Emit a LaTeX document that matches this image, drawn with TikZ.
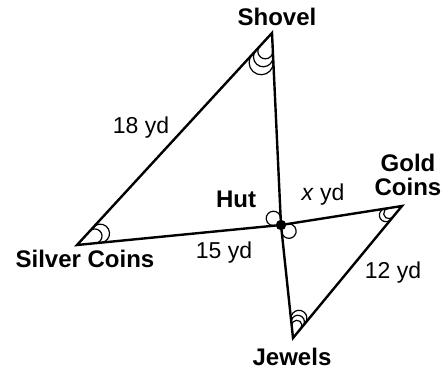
\documentclass[tikz,border=0pt]{standalone}
\usepackage{fontspec}
\setmainfont{Liberation Sans}
% angle mark: arc of the circle inscribed in the angle at #1 (sides towards #2 and #3,
% counter-clockwise from #2 to #3), centre at distance #4 along the bisector
\newcommand\tanarc[4]{%
  \pgfmathanglebetweenpoints{\pgfpointanchor{#1}{center}}{\pgfpointanchor{#2}{center}}%
  \let\tkA\pgfmathresult
  \pgfmathanglebetweenpoints{\pgfpointanchor{#1}{center}}{\pgfpointanchor{#3}{center}}%
  \let\tkB\pgfmathresult
  \pgfmathsetmacro\tkB{\tkB < \tkA ? \tkB + 360 : \tkB}%
  \pgfmathsetmacro\tkH{(\tkB-\tkA)/2}%
  \pgfmathsetmacro\tkM{\tkA+\tkH}%
  \pgfmathsetmacro\tkR{#4*sin(\tkH)}%
  \pgfmathsetmacro\tkS{\tkA-90}%
  \pgfmathsetmacro\tkE{\tkB+90}%
  \begin{pgfscope}
  \pgfsetlinewidth{1.2pt}%
  \pgfpathmoveto{\pgfpointadd{\pgfpointanchor{#1}{center}}{\pgfpointadd{\pgfpointpolar{\tkM}{#4pt}}{\pgfpointpolar{\tkS}{\tkR pt}}}}%
  \pgfpatharc{\tkS}{\tkE}{\tkR pt}%
  \pgfusepath{stroke}%
  \end{pgfscope}}
\begin{document}
\begin{tikzpicture}[x=1pt,y=-1pt,
  side/.style={line width=2.4pt,line join=miter,line cap=butt},
  vlabel/.style={font=\fontsize{24}{24}\selectfont\bfseries,inner sep=0pt,anchor=base,align=center},
  dlabel/.style={font=\fontsize{23}{24}\selectfont,inner sep=0pt,anchor=base}]
\useasboundingbox (0,0) rectangle (448,370);
\coordinate (S) at (272,33);
\coordinate (V) at (77,245);
\coordinate (H) at (281,225);
\coordinate (G) at (402,206);
\coordinate (J) at (293,338);
\draw[side] (H) -- (V) -- (S) -- (H) -- (J) -- (G) -- (H);
% angle marks
\tanarc{S}{V}{H}{19.5}
\tanarc{S}{V}{H}{25.5}
\tanarc{S}{V}{H}{31.5}
\tanarc{V}{H}{S}{20}
\tanarc{V}{H}{S}{26}
\tanarc{H}{S}{V}{10}
\tanarc{H}{J}{G}{10}
\tanarc{G}{H}{J}{15}
\tanarc{G}{H}{J}{18.5}
\tanarc{J}{G}{H}{13.2}
\tanarc{J}{G}{H}{16.9}
\tanarc{J}{G}{H}{20.6}
\fill (H) circle (5.2pt);
% labels
\node[vlabel] (lS) at (277,25) {Shovel};
\node[vlabel] (lV) at (85,267) {Silver Coins};
\node[vlabel] (lH) at (236,207) {Hut};
\node[vlabel] (lG) at (408,195) {Gold\\Coins};
\node[vlabel] (lJ) at (292,365) {Jewels};
\node[dlabel] (d18) at (141,133) {18 yd};
\node[dlabel] (d15) at (224,258) {15 yd};
\node[dlabel] (dx) at (323,200) {\textit{x} yd};
\node[dlabel] (d12) at (393,278) {12 yd};
\end{tikzpicture}
\end{document}
